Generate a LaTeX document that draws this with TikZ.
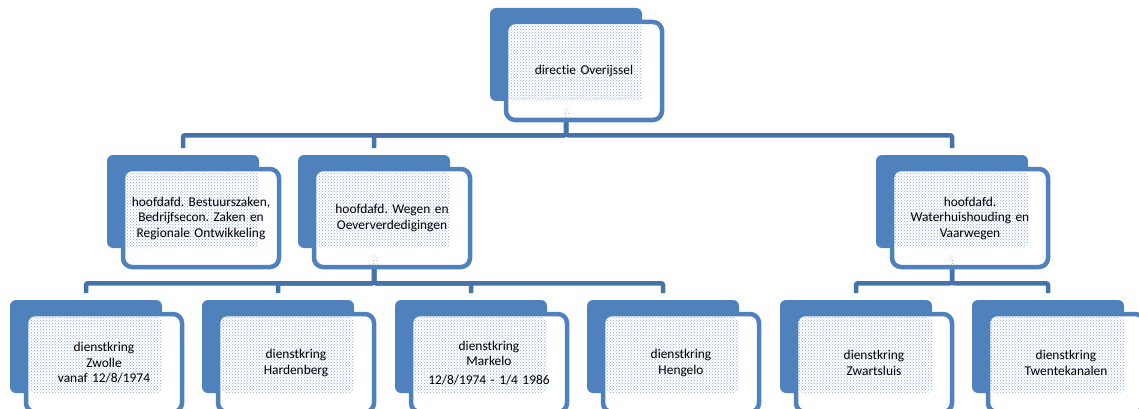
\documentclass[tikz,border=0pt]{standalone}
\usepackage{fontspec}
\setmainfont{Carlito}[Ligatures={NoCommon,NoRare,NoDiscretionary}]
\usetikzlibrary{patterns}
\definecolor{boxblue}{RGB}{79,129,189}
\definecolor{connblue}{RGB}{70,114,170}
\definecolor{dotblue}{RGB}{135,165,212}
\tikzset{
  backbox/.style={rectangle, fill=boxblue, draw=none, minimum width=152pt,
    minimum height=93pt, inner sep=0pt, outer sep=0pt, rounded corners=6pt},
  framebox/.style={rectangle, fill=white, draw=boxblue, line width=4.5pt,
    minimum width=156pt, minimum height=98pt, inner sep=0pt,
    rounded corners=9pt, text width=150pt, align=center,
    font=\frenchspacing\fontsize{13.4}{15.5}\selectfont,
    path picture={
      \fill[white, pattern=crosshatch dots, pattern color=dotblue, rounded corners=5pt]
        ([shift={(3,3)}]path picture bounding box.north west) rectangle
        ([shift={(136,79)}]path picture bounding box.north west);
    }},
  framechild/.style={framebox, path picture={
      \fill[pattern=crosshatch dots, pattern color=dotblue, rounded corners=5pt]
        ([shift={(3,3)}]path picture bounding box.north west) rectangle
        ([shift={(136,79)}]path picture bounding box.north west);
      \fill[pattern=crosshatch dots, pattern color=dotblue]
        ([shift={(57,86)}]path picture bounding box.north west) rectangle
        ([shift={(63,96)}]path picture bounding box.north west);
    }},
  conn/.style={draw=connblue, line width=4.5pt, rounded corners=2pt}
}
\newcommand\orgbox[5][framebox]{%
  \node[backbox] (#2-b) at (#3+76,#4+46.5) {};
  \node[#1] (#2) at (#3+94,#4+63) {#5};
}
\begin{document}
\begin{tikzpicture}[x=1pt,y=-1pt]
\useasboundingbox (0,0) rectangle (1139,409);
\clip (0,0) rectangle (1139,409);
% level 0
\orgbox[framechild]{top}{490}{8}{directie Overijssel}
% level 1
\orgbox{hA}{107}{155}{hoofdafd. Bestuurszaken,\\Bedrijfsecon. Zaken en\\Regionale Ontwikkeling}
\orgbox[framechild]{hB}{298}{155}{hoofdafd. Wegen en\\Oeververdedigingen}
\orgbox[framechild]{hC}{876}{155}{hoofdafd.\\Waterhuishouding en\\Vaarwegen}
% level 2
\orgbox{dA}{10}{300}{dienstkring\\Zwolle\\vanaf 12/8/1974}
\orgbox{dB}{202}{300}{dienstkring\\Hardenberg}
\orgbox{dC}{395}{300}{dienstkring\\Markelo\\[3pt]12/8/1974 - 1/4 1986}
\orgbox{dD}{587}{300}{dienstkring\\Hengelo}
\orgbox{dE}{780}{300}{dienstkring\\Zwartsluis}
\orgbox{dF}{972}{300}{dienstkring\\Twentekanalen}
% connectors
\foreach \c in {hA,hB,hC}
  \draw[conn] (top-b.south |- top.south) -- ++(0,13) -| ([yshift=7pt]\c-b.north);
\foreach \c in {dA,dB,dC,dD}
  \draw[conn] (hB-b.south |- hB.south) -- ++(0,14) -| ([yshift=7pt]\c-b.north);
\foreach \c in {dE,dF}
  \draw[conn] (hC-b.south |- hC.south) -- ++(0,14) -| ([yshift=7pt]\c-b.north);
\end{tikzpicture}
\end{document}
